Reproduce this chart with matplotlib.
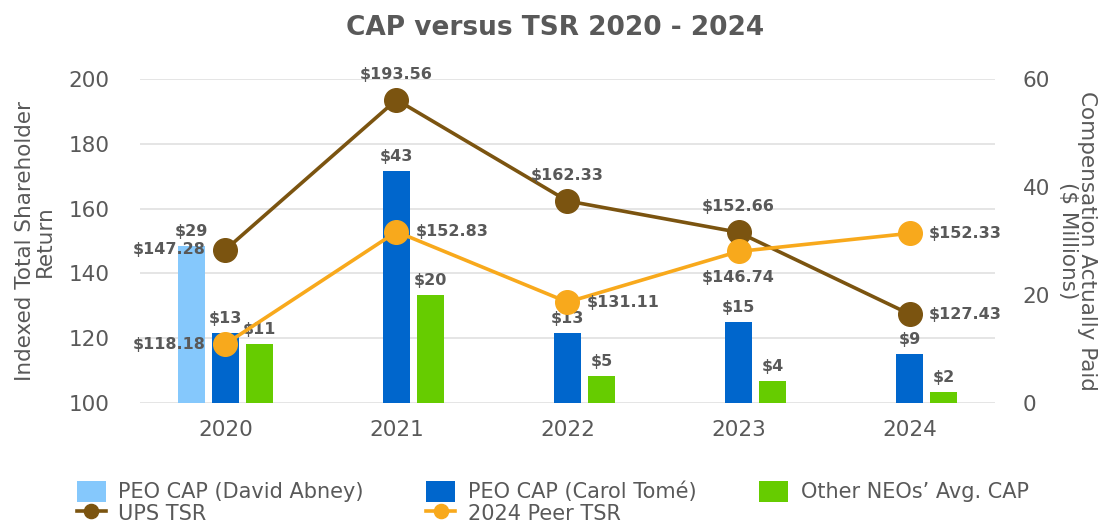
import matplotlib
matplotlib.use('Agg')
import matplotlib.pyplot as plt
import numpy as np

years = ["2020", "2021", "2022", "2023", "2024"]
ups_tsr = [147.28, 193.56, 162.33, 152.66, 127.43]
peer_tsr = [118.18, 152.83, 131.11, 146.74, 152.33]
abney_cap = [29, None, None, None, None]
tome_cap = [13, 43, 13, 15, 9]
neo_cap = [11, 20, 5, 4, 2]

# where each TSR label sits relative to its point
ups_pos = ["left", "above", "above", "above", "right"]
peer_pos = ["left", "right", "right", "below", "right"]

GRAY = "#595959"
C_ABNEY = "#85c8fc"
C_TOME = "#0066cc"
C_NEO = "#66cc00"
C_UPS = "#7b5410"
C_PEER = "#f8a91c"

plt.rcParams['font.family'] = ['DejaVu Sans']

fig = plt.figure(figsize=(11.11, 5.26), dpi=100)
ax = fig.add_axes([0.126, 0.234, 0.7696, 0.616])
ax2 = ax.twinx()

x = np.arange(len(years))
w = 0.16
step = 0.2


def bar_labels(axis, xs, vals):
    for xi, v in zip(xs, vals):
        if v is None:
            continue
        axis.annotate(f"${v}", (xi, v), xytext=(0, 5), textcoords="offset points",
                      ha="center", va="bottom", fontsize=11.5, fontweight="bold", color=GRAY)


ab_x = [xi - step for xi, v in zip(x, abney_cap) if v is not None]
ab_v = [v for v in abney_cap if v is not None]
b1 = ax2.bar(ab_x, ab_v, w, color=C_ABNEY, label="PEO CAP (David Abney)", zorder=2)
b2 = ax2.bar(x, tome_cap, w, color=C_TOME, label="PEO CAP (Carol Tomé)", zorder=2)
b3 = ax2.bar(x + step, neo_cap, w, color=C_NEO, label="Other NEOs\u2019 Avg. CAP", zorder=2)
bar_labels(ax2, ab_x, ab_v)
bar_labels(ax2, x, tome_cap)
bar_labels(ax2, x + step, neo_cap)

# lines drawn on an overlay axis (left scale) so they sit above the bars
ax3 = ax2.twinx()
ax2.yaxis.tick_right()
ax2.yaxis.set_label_position("right")
ax3.set_ylim(100, 200)
ax3.axis("off")
l1, = ax3.plot(x, ups_tsr, color=C_UPS, lw=2.6, marker="o", ms=17, label="UPS TSR", zorder=3)
l2, = ax3.plot(x, peer_tsr, color=C_PEER, lw=2.6, marker="o", ms=17, label="2024 Peer TSR", zorder=3)

offsets = {"left": (-14, 0, "right", "center"), "right": (14, 0, "left", "center"),
           "above": (0, 13, "center", "bottom"), "below": (0, -13, "center", "top")}
for vals, pos in ((ups_tsr, ups_pos), (peer_tsr, peer_pos)):
    for xi, v, p in zip(x, vals, pos):
        dx, dy, ha, va = offsets[p]
        ax3.annotate(f"${v:.2f}", (xi, v), xytext=(dx, dy), textcoords="offset points",
                     ha=ha, va=va, fontsize=11.5, fontweight="bold", color=GRAY)

ax.set_xlim(-0.5, len(years) - 0.5)
ax3.set_xlim(-0.5, len(years) - 0.5)
ax.set_ylim(100, 200)
ax.set_yticks(range(100, 201, 20))
ax2.set_ylim(0, 60)
ax2.set_yticks([0, 20, 40, 60])
ax.set_xticks(x)
ax.set_xticklabels(years)
ax.yaxis.grid(True, color="#e0e0e0", lw=1.2)
ax.set_axisbelow(True)
for a in (ax, ax2):
    for s in a.spines.values():
        s.set_visible(False)
    a.tick_params(length=0, labelsize=15.5, colors=GRAY)
ax.tick_params(axis="y", pad=22)
ax.tick_params(axis="x", pad=12)
ax2.tick_params(axis="y", pad=20)

ax.set_ylabel("Indexed Total Shareholder\nReturn", fontsize=15.5, color=GRAY, labelpad=10, linespacing=0.95)
ax2.set_ylabel("Compensation Actually Paid\n($ Millions)", fontsize=15.5, color=GRAY,
               rotation=-90, labelpad=34, linespacing=0.95)

fig.suptitle("CAP versus TSR 2020 - 2024", x=0.5, y=0.972, fontsize=19,
             fontweight="bold", color=GRAY)

leg = fig.legend([b1, l1, b2, l2, b3],
                 [h.get_label() for h in (b1, l1, b2, l2, b3)],
                 ncol=3, loc="lower left", bbox_to_anchor=(0.052, -0.032),
                 frameon=False, fontsize=15, labelcolor=GRAY,
                 columnspacing=3.0, handlelength=1.4, handleheight=1.2,
                 labelspacing=0.0, handletextpad=0.6, markerscale=0.6)

plt.savefig("out.png", dpi=100)
plt.close()
